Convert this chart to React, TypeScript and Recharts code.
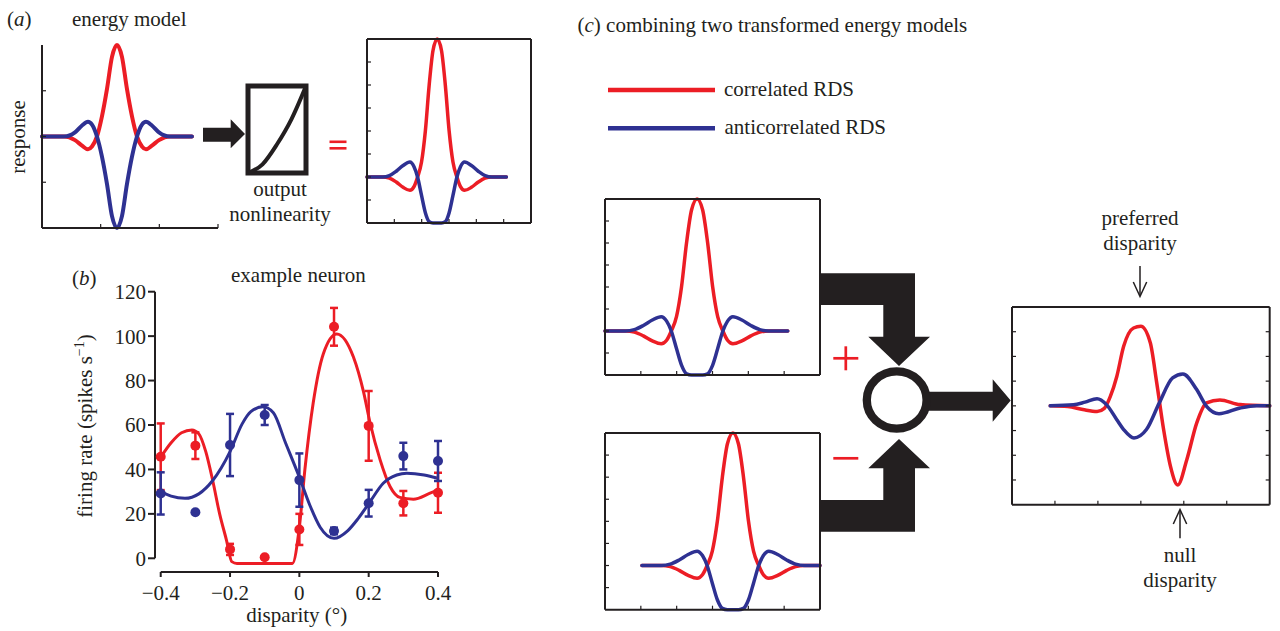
import React from "react";
import {
  LineChart, Line, XAxis, YAxis, ReferenceArea, ReferenceLine,
  ComposedChart, Scatter, ErrorBar,
} from "recharts";

const RED = "#EC1D25";
const BLUE = "#2E3192";
const INK = "#231F20";
const SERIF = '"Liberation Serif", "Times New Roman", serif';

// (a) energy model, x in axis divisions (0-3), y normalised response
const EM_X = [0, 0.375, 0.562, 0.682, 0.784, 0.852, 0.937, 1.022, 1.108, 1.193, 1.278, 1.363, 1.448, 1.534, 1.619, 1.704, 1.772, 1.874, 1.994, 2.181, 2.556];
const EM_RED = [0, 0, -0.04, -0.1, -0.14, -0.11, 0, 0.22, 0.52, 0.87, 1, 0.87, 0.52, 0.22, 0, -0.11, -0.14, -0.1, -0.04, 0, 0];
const EM_BLUE = [0, 0, 0.045, 0.12, 0.16, 0.13, 0, -0.22, -0.52, -0.87, -1, -0.87, -0.52, -0.22, 0, 0.13, 0.16, 0.12, 0.045, 0, 0];

// output nonlinearity
const NL_X = [0, 0.25, 0.5, 0.75, 1];
const NL_Y = [0, 0.1, 0.33, 0.62, 1];

// transformed energy model, x in divisions (0-6), y in divisions (0-8)
const TR_X = [0, 0.57, 0.82, 1.07, 1.32, 1.57, 1.72, 1.85, 1.995, 2.135, 2.275, 2.415, 2.57, 2.725, 2.865, 3.005, 3.145, 3.29, 3.42, 3.57, 3.82, 4.07, 4.32, 4.57, 5.1];
const TR_RED = [2, 2, 1.95, 1.78, 1.55, 1.42, 1.58, 2, 2.65, 4, 6, 7.5, 8, 7.5, 6, 4, 2.65, 2, 1.58, 1.42, 1.55, 1.78, 1.95, 2, 2];
const TR_BLUE = [2, 2, 2.06, 2.25, 2.5, 2.65, 2.45, 2, 1.2, 0.45, 0.06, 0, 0, 0, 0.06, 0.45, 1.2, 2, 2.45, 2.65, 2.5, 2.25, 2.06, 2, 2];
// second (shifted) transformed model
const SH_X = [1.03, 1.57, 1.82, 2.07, 2.32, 2.57, 2.72, 2.85, 2.995, 3.135, 3.275, 3.415, 3.57, 3.725, 3.865, 4.005, 4.145, 4.29, 4.42, 4.57, 4.82, 5.07, 5.32, 5.57, 6];

// combined result
const RES_RED_X = [0.89, 1.3, 1.65, 1.98, 2.15, 2.29, 2.44, 2.6, 2.83, 3.0, 3.22, 3.37, 3.53, 3.69, 3.86, 4.07, 4.3, 4.53, 4.84, 5.31, 6.0];
const RES_RED = [4, 3.97, 3.85, 3.77, 3.9, 4.38, 5.19, 6.41, 7.15, 7.22, 6.55, 4.93, 3.04, 1.55, 0.8, 1.82, 3.3, 4.12, 4.24, 4.05, 4];
const RES_BLUE_X = [0.89, 1.43, 1.7, 1.98, 2.2, 2.44, 2.6, 2.84, 3.13, 3.43, 3.74, 3.98, 4.3, 4.53, 4.82, 5.31, 5.7, 6.0];
const RES_BLUE = [4, 4.04, 4.15, 4.29, 4.05, 3.44, 3.04, 2.7, 3.04, 4.12, 5.13, 5.29, 4.66, 3.98, 3.68, 3.91, 4, 4];

// (b) example neuron
const DISP = [-0.4, -0.3, -0.2, -0.1, 0, 0.1, 0.2, 0.3, 0.4];
const COR_RATE = [45.7, 50.7, 4, 0.5, 13, 104.2, 59.6, 24.8, 29.5];
const COR_ERR = [15, 6, 2.5, 0, 7, 8.5, 15.7, 5.5, 9];
const ANTI_RATE = [29.2, 20.7, 51, 64.5, 35.2, 12.3, 24.8, 46, 43.8];
const ANTI_ERR = [9.5, 0, 14, 4.5, 12, 1.5, 6, 6, 9];
const COR_FIT_X = [-0.4, -0.37, -0.34, -0.31, -0.29, -0.27, -0.25, -0.23, -0.21, -0.195, -0.18, -0.1, -0.02, 0, 0.016, 0.04, 0.069, 0.108, 0.156, 0.185, 0.204, 0.233, 0.262, 0.29, 0.329, 0.377, 0.4];
const COR_FIT_Y = [45.5, 52, 56.5, 57.8, 56, 48, 35, 20, 8, -1.5, -2.3, -2.3, -2.3, 14, 40, 70, 92, 101, 90.6, 75, 61, 44.3, 32.2, 27.4, 26.6, 29.3, 30.7];
const ANTI_FIT_X = [-0.4, -0.37, -0.33, -0.29, -0.25, -0.2, -0.165, -0.14, -0.105, -0.075, -0.04, 0, 0.03, 0.06, 0.1, 0.14, 0.17, 0.204, 0.242, 0.281, 0.31, 0.36, 0.4];
const ANTI_FIT_Y = [30, 28, 27, 29, 35, 48, 60.5, 66, 68.2, 65.5, 52, 36.5, 24, 14, 9, 12.5, 18, 25.5, 33.8, 37.5, 38.3, 37.5, 36];
const B_XTICKS = [-0.4, -0.2, 0, 0.2, 0.4];
const B_YTICKS = [0, 20, 40, 60, 80, 100, 120];

const B_XLO = -0.4165;
const B_YLO = -6.17;

const rows = (xs: number[], ys: number[]) => xs.map((x, i) => ({ x, y: ys[i] }));
const pts = (ys: number[], err: number[]) => DISP.map((x, i) => ({ x, y: ys[i], err: err[i] }));

type Curve = { xs: number[]; ys: number[]; color: string };

const NoLabel = () => <g />;

function Mini(props: {
  left: number; top: number; width: number; height: number;
  xMax: number; yDomain: [number, number]; xTicks: number[]; yTicks: number[];
  curves: Curve[]; box?: boolean; allSides?: boolean; sw?: number;
}) {
  const { left, top, width, height, xMax, yDomain, xTicks, yTicks, curves, box, allSides, sw = 3.5 } = props;
  const pad = 10;
  const axisLine = { stroke: INK, strokeWidth: 2 };
  const tickLine = { stroke: INK, strokeWidth: 1.2 };
  return (
    <div style={{ position: "absolute", left: left - pad, top: top - pad }}>
      <LineChart width={width + 2 * pad} height={height + 2 * pad} margin={{ top: pad, right: pad, bottom: pad, left: pad }}>
        <XAxis xAxisId="b" type="number" dataKey="x" domain={[0, xMax]} ticks={xTicks} interval={0} mirror tick={NoLabel} tickSize={4} axisLine={axisLine} tickLine={tickLine} />
        <YAxis yAxisId="l" type="number" domain={yDomain} ticks={yTicks} interval={0} mirror tick={NoLabel} tickSize={4} axisLine={axisLine} tickLine={tickLine} />
        {box && (
          <XAxis xAxisId="t" orientation="top" type="number" domain={[0, xMax]} allowDataOverflow ticks={xTicks} interval={0} mirror tick={NoLabel} tickSize={4} axisLine={axisLine} tickLine={allSides ? tickLine : false} />
        )}
        {box && (
          <YAxis yAxisId="r" orientation="right" type="number" domain={yDomain} allowDataOverflow ticks={yTicks} interval={0} mirror tick={NoLabel} tickSize={4} axisLine={axisLine} tickLine={allSides ? tickLine : false} />
        )}
        {curves.map((c, i) => (
          <Line key={i} xAxisId="b" yAxisId="l" data={rows(c.xs, c.ys)} dataKey="y" type="monotone"
            stroke={c.color} strokeWidth={sw} strokeLinecap="round" dot={false} isAnimationActive={false} />
        ))}
      </LineChart>
    </div>
  );
}

function NonlinearityBox() {
  const pad = 6;
  return (
    <div style={{ position: "absolute", left: 247.5 - pad, top: 85.5 - pad }}>
      <LineChart width={58 + 2 * pad} height={87 + 2 * pad} margin={{ top: pad, right: pad, bottom: pad, left: pad }}>
        <XAxis type="number" dataKey="x" domain={[0, 1]} hide />
        <YAxis type="number" domain={[0, 1]} hide />
        <ReferenceArea x1={0} x2={1} y1={0} y2={1} fill="none" fillOpacity={0} stroke={INK} strokeWidth={5} />
        <Line data={rows(NL_X, NL_Y)} dataKey="y" type="monotone" stroke={INK} strokeWidth={4} dot={false} isAnimationActive={false} />
      </LineChart>
    </div>
  );
}

const fmtDisp = (v: number) => (v === 0 ? "0" : v < 0 ? "\u2212" + Math.abs(v).toFixed(1) : v.toFixed(1));

function NeuronChart() {
  const tickStyle = { fontSize: 21, fill: INK, fontFamily: SERIF };
  const dot = (color: string) => (p: any) => <circle cx={p.cx} cy={p.cy} r={5} fill={color} />;
  return (
    <div style={{ position: "absolute", left: 0, top: 270 }}>
      <ComposedChart width={460} height={361} margin={{ top: 21.7, right: 22, bottom: 19, left: 95 }}>
        <XAxis type="number" dataKey="x" domain={[B_XLO, 0.4]} ticks={B_XTICKS} interval={0} tickFormatter={fmtDisp}
          axisLine={false} tickSize={5} tickMargin={8} height={40} tick={tickStyle} tickLine={{ stroke: INK, strokeWidth: 2 }} />
        <YAxis type="number" domain={[B_YLO, 120]} ticks={B_YTICKS} interval={0}
          axisLine={false} tickSize={7} tickMargin={2} width={60} tick={tickStyle} tickLine={{ stroke: INK, strokeWidth: 2 }} />
        <ReferenceLine segment={[{ x: -0.4, y: B_YLO }, { x: 0.4, y: B_YLO }]} stroke={INK} strokeWidth={2} ifOverflow="visible" />
        <ReferenceLine segment={[{ x: B_XLO, y: 0 }, { x: B_XLO, y: 120 }]} stroke={INK} strokeWidth={2} ifOverflow="visible" />
        <Line data={rows(COR_FIT_X, COR_FIT_Y)} dataKey="y" type="monotone" stroke={RED} strokeWidth={3} dot={false} isAnimationActive={false} />
        <Line data={rows(ANTI_FIT_X, ANTI_FIT_Y)} dataKey="y" type="monotone" stroke={BLUE} strokeWidth={3} dot={false} isAnimationActive={false} />
        <Scatter data={pts(COR_RATE, COR_ERR)} dataKey="y" shape={dot(RED)} isAnimationActive={false}>
          <ErrorBar dataKey="err" direction="y" width={4} stroke={RED} strokeWidth={2.5} isAnimationActive={false} />
        </Scatter>
        <Scatter data={pts(ANTI_RATE, ANTI_ERR)} dataKey="y" shape={dot(BLUE)} isAnimationActive={false}>
          <ErrorBar dataKey="err" direction="y" width={4} stroke={BLUE} strokeWidth={2.5} isAnimationActive={false} />
        </Scatter>
      </ComposedChart>
    </div>
  );
}

function Overlay() {
  return (
    <svg width={1280} height={631} style={{ position: "absolute", left: 0, top: 0 }} fontFamily={SERIF} fontSize={21} fill={INK}>
      {/* (a) */}
      <text x={7} y={26}>(<tspan fontStyle="italic">a</tspan>)</text>
      <text x={72} y={26}>energy model</text>
      <text transform="translate(25,137) rotate(-90)" textAnchor="middle">response</text>
      <polygon points="203,127.7 230.7,127.7 230.7,119.3 245,134 230.7,148.3 230.7,141.7 203,141.7" fill={INK} />
      <text x={280} y={196} textAnchor="middle">output</text>
      <text x={280} y={221} textAnchor="middle">nonlinearity</text>
      <line x1={329.5} x2={346.5} y1={141.8} y2={141.8} stroke={RED} strokeWidth={2.6} />
      <line x1={329.5} x2={346.5} y1={148.3} y2={148.3} stroke={RED} strokeWidth={2.6} />

      {/* (b) */}
      <text x={72} y={285}>(<tspan fontStyle="italic">b</tspan>)</text>
      <text x={231} y={281.7}>example neuron</text>
      <text transform="translate(92,426) rotate(-90)" textAnchor="middle">
        firing rate (spikes s<tspan dy={-8} fontSize={14}>{"\u22121"}</tspan><tspan dy={8}>)</tspan>
      </text>
      <text x={296.7} y={621.7} textAnchor="middle">disparity (°)</text>

      {/* (c) */}
      <text x={577.5} y={31.5}>(<tspan fontStyle="italic">c</tspan>) combining two transformed energy models</text>
      <line x1={608} x2={715} y1={90} y2={90} stroke={RED} strokeWidth={4.5} />
      <line x1={608} x2={715} y1={128.3} y2={128.3} stroke={BLUE} strokeWidth={4.5} />
      <text x={724} y={96}>correlated RDS</text>
      <text x={724.5} y={134}>anticorrelated RDS</text>

      <polygon points="820,273.3 915,273.3 915,336.7 930,336.7 899,366 868.3,336.7 883.3,336.7 883.3,305 820,305" fill={INK} />
      <polygon points="820,531.7 915,531.7 915,468.3 930,468.3 899,439 868.3,468.3 883.3,468.3 883.3,500 820,500" fill={INK} />
      <polygon points="925,391.7 992.7,391.7 992.7,379.3 1010.7,400.5 992.7,421.7 992.7,410.7 925,410.7" fill={INK} />
      <ellipse cx={896.7} cy={400} rx={29.9} ry={28.7} fill="#fff" stroke={INK} strokeWidth={8.3} />
      <line x1={833.3} x2={858.3} y1={358.3} y2={358.3} stroke={RED} strokeWidth={2.7} />
      <line x1={845.8} x2={845.8} y1={346.3} y2={370.3} stroke={RED} strokeWidth={2.7} />
      <line x1={833.3} x2={858.3} y1={458.3} y2={458.3} stroke={RED} strokeWidth={2.7} />

      <text x={1140} y={225} textAnchor="middle">preferred</text>
      <text x={1140} y={250} textAnchor="middle">disparity</text>
      <line x1={1140} x2={1140} y1={266} y2={296} stroke={INK} strokeWidth={1.5} />
      <polyline points="1133.3,282 1140,296.5 1146.7,282" fill="none" stroke={INK} strokeWidth={1.5} />
      <line x1={1180} x2={1180} y1={510} y2={538.3} stroke={INK} strokeWidth={1.5} />
      <polyline points="1173.3,524 1180,509.5 1186.7,524" fill="none" stroke={INK} strokeWidth={1.5} />
      <text x={1180} y={561.7} textAnchor="middle">null</text>
      <text x={1180} y={586.7} textAnchor="middle">disparity</text>
    </svg>
  );
}

const DIV6 = [1, 2, 3, 4, 5];
const DIV8 = [1, 2, 3, 4, 5, 6, 7];

export default function App() {
  return (
    <div style={{ position: "absolute", left: 0, top: 0, width: 1280, height: 631, background: "#fff", overflow: "hidden" }}>
      <Mini left={42} top={45} width={176} height={183} xMax={3} yDomain={[-1, 1]} xTicks={[1, 2, 3]} yTicks={[-0.5, 0, 0.5]} sw={4}
        curves={[{ xs: EM_X, ys: EM_RED, color: RED }, { xs: EM_X, ys: EM_BLUE, color: BLUE }]} />
      <NonlinearityBox />
      <Mini left={367} top={39} width={164} height={184} xMax={6} yDomain={[0, 8]} xTicks={DIV6} yTicks={DIV8} box sw={3.5}
        curves={[{ xs: TR_X, ys: TR_RED, color: RED }, { xs: TR_X, ys: TR_BLUE, color: BLUE }]} />
      <NeuronChart />
      <Mini left={605} top={199} width={215} height={176} xMax={6} yDomain={[0, 8]} xTicks={DIV6} yTicks={DIV8} box sw={3.5}
        curves={[{ xs: TR_X, ys: TR_RED, color: RED }, { xs: TR_X, ys: TR_BLUE, color: BLUE }]} />
      <Mini left={605} top={433.3} width={215} height={176.7} xMax={6} yDomain={[0, 8]} xTicks={DIV6} yTicks={DIV8} box sw={3.5}
        curves={[{ xs: SH_X, ys: TR_RED, color: RED }, { xs: SH_X, ys: TR_BLUE, color: BLUE }]} />
      <Mini left={1011.7} top={307.3} width={257.7} height={197.7} xMax={6} yDomain={[0, 8]} xTicks={DIV6} yTicks={DIV8} box allSides sw={3.5}
        curves={[{ xs: RES_RED_X, ys: RES_RED, color: RED }, { xs: RES_BLUE_X, ys: RES_BLUE, color: BLUE }]} />
      <Overlay />
    </div>
  );
}
